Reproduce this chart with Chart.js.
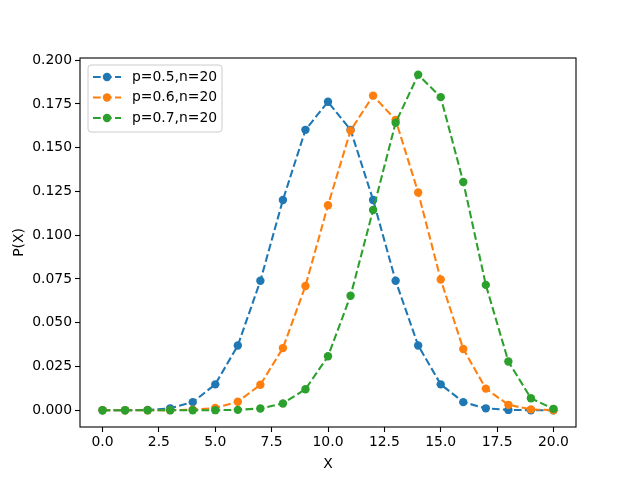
<!DOCTYPE html>
<html><head><meta charset="utf-8">
<script src="https://cdn.jsdelivr.net/npm/chart.js@4/dist/chart.umd.min.js"></script>
<style>html,body{margin:0;padding:0;background:#fff}#wrap{width:640px;height:480px}</style>
</head><body><div id="wrap"><canvas id="c" width="640" height="480"></canvas></div>
<script>
const xValues = [0,1,2,3,4,5,6,7,8,9,10,11,12,13,14,15,16,17,18,19,20];
const seriesLabels = ['p=0.5,n=20','p=0.6,n=20','p=0.7,n=20'];
const p05 = [0.000001,0.000019,0.000181,0.001087,0.004621,0.014786,0.036964,0.073929,0.120134,0.160179,0.176197,0.160179,0.120134,0.073929,0.036964,0.014786,0.004621,0.001087,0.000181,0.000019,0.000001];
const p06 = [0.0,0.0,0.000005,0.000042,0.00027,0.001294,0.004854,0.014563,0.035497,0.070995,0.117142,0.159738,0.179706,0.165882,0.124412,0.074647,0.034991,0.01235,0.003087,0.000487,0.000037];
const p07 = [0.0,0.0,0.0,0.0,0.000005,0.000037,0.000218,0.001018,0.003859,0.012007,0.030817,0.06537,0.114397,0.164262,0.191639,0.178863,0.130421,0.071604,0.027846,0.006839,0.000798];
const xTicks = [0,2.5,5,7.5,10,12.5,15,17.5,20];
const yTicks = [0,0.025,0.05,0.075,0.1,0.125,0.15,0.175,0.2];
const colors = ['#1f77b4','#ff7f0e','#2ca02c'];
const FONT = '"DejaVu Sans", sans-serif';

function mk(label, vals, color, order){
  return {label, order, data: xValues.map((x,i)=>({x, y: vals[i]})), borderColor: color, backgroundColor: color,
    borderWidth: 2.08, borderDash: [7.7,3.3], pointRadius: 4.2, pointHoverRadius: 4.2, pointBorderWidth: 0,
    pointBackgroundColor: color, fill: false, tension: 0};
}

const framePlugin = {
  id: 'frame',
  afterDatasetsDraw(chart){
    const {ctx, chartArea: a} = chart;
    ctx.save();
    ctx.strokeStyle = '#000'; ctx.lineWidth = 1.1;
    ctx.strokeRect(a.left, a.top, a.right - a.left, a.bottom - a.top);
    // legend
    const lx = 88, ly = 65, lw = 134, lh = 67, r = 3;
    ctx.beginPath();
    ctx.moveTo(lx+r, ly); ctx.lineTo(lx+lw-r, ly); ctx.arcTo(lx+lw, ly, lx+lw, ly+r, r);
    ctx.lineTo(lx+lw, ly+lh-r); ctx.arcTo(lx+lw, ly+lh, lx+lw-r, ly+lh, r);
    ctx.lineTo(lx+r, ly+lh); ctx.arcTo(lx, ly+lh, lx, ly+lh-r, r);
    ctx.lineTo(lx, ly+r); ctx.arcTo(lx, ly, lx+r, ly, r); ctx.closePath();
    ctx.fillStyle = 'rgba(255,255,255,0.8)'; ctx.fill();
    ctx.strokeStyle = '#cccccc'; ctx.lineWidth = 1; ctx.stroke();
    const rows = [77, 97.5, 118];
    chart.data.datasets.forEach((ds, i) => {
      const y = rows[i];
      ctx.strokeStyle = ds.borderColor; ctx.lineWidth = 2.08; ctx.setLineDash([7.7,3.3]);
      ctx.beginPath(); ctx.moveTo(93, y); ctx.lineTo(121, y); ctx.stroke();
      ctx.setLineDash([]);
      ctx.fillStyle = ds.borderColor; ctx.beginPath(); ctx.arc(107, y, 4.2, 0, Math.PI*2); ctx.fill();
      ctx.fillStyle = '#000'; ctx.font = '13.9px ' + FONT; ctx.textBaseline = 'middle'; ctx.textAlign = 'left';
      ctx.fillText(ds.label, 132, y);
    });
    ctx.restore();
  }
};

new Chart(document.getElementById('c'), {
  type: 'line',
  data: { datasets: [mk(seriesLabels[0], p05, colors[0], 2), mk(seriesLabels[1], p06, colors[1], 1), mk(seriesLabels[2], p07, colors[2], 0)] },
  options: {
    responsive: false, animation: false, devicePixelRatio: 1,
    layout: { padding: { top: 58, right: 64, left: 0, bottom: 0 } },
    plugins: { legend: { display: false }, tooltip: { enabled: false } },
    scales: {
      x: {
        type: 'linear', min: -1, max: 21,
        afterBuildTicks: s => { s.ticks = xTicks.map(v => ({value: v})); },
        afterFit: s => { s.height = 53; },
        grid: { drawOnChartArea: false, drawTicks: true, tickLength: 5, color: '#000', tickWidth: 1.1 },
        border: { display: false },
        ticks: { color: '#000', font: { family: FONT, size: 13.9 }, padding: 2, maxRotation: 0,
          callback: v => v.toFixed(1) },
        title: { display: true, text: 'X', color: '#000', font: { family: FONT, size: 13.9 }, padding: { top: 2, bottom: 7 } }
      },
      y: {
        type: 'linear', min: -0.00958, max: 0.20122,
        afterBuildTicks: s => { s.ticks = yTicks.map(v => ({value: v})); },
        afterFit: s => { s.width = 80; },
        grid: { drawOnChartArea: false, drawTicks: true, tickLength: 5, color: '#000', tickWidth: 1.1 },
        border: { display: false },
        ticks: { color: '#000', font: { family: FONT, size: 13.9 }, padding: 3,
          callback: v => v.toFixed(3) },
        title: { display: true, text: 'P(X)', color: '#000', font: { family: FONT, size: 13.9 }, padding: { top: 11, bottom: 0 } }
      }
    }
  },
  plugins: [framePlugin]
});
</script></body></html>
